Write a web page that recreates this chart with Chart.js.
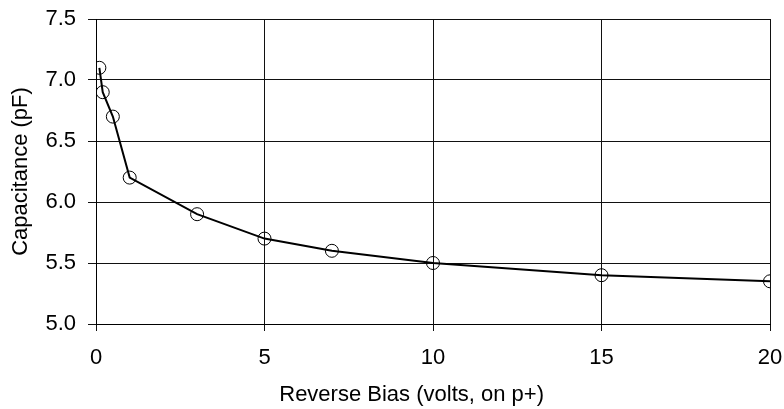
<!DOCTYPE html>
<html>
<head>
<meta charset="utf-8">
<script src="https://cdn.jsdelivr.net/npm/chart.js@4/dist/chart.umd.min.js"></script>
<style>
html,body{margin:0;padding:0;background:#fff;}
#wrap{width:784px;height:409px;position:relative;}
</style>
</head>
<body>
<div id="wrap"><canvas id="c" width="784" height="409"></canvas></div>
<script>
const biasVolts = [0.1, 0.2, 0.5, 1, 3, 5, 7, 10, 15, 20];
const capacitancePF = [7.1, 6.9, 6.7, 6.2, 5.9, 5.7, 5.6, 5.5, 5.4, 5.35];
const xTitle = 'Reverse Bias (volts, on p+)';
const yTitle = 'Capacitance (pF)';

const points = biasVolts.map((v, i) => ({x: v, y: capacitancePF[i]}));
const FONT = '"Liberation Sans", Arial, sans-serif';

new Chart(document.getElementById('c'), {
  type: 'scatter',
  data: {
    datasets: [{
      data: points,
      showLine: true,
      borderColor: '#000',
      borderWidth: 2,
      pointStyle: 'circle',
      pointRadius: 6.5,
      pointBorderWidth: 1,
      pointBorderColor: '#000',
      pointBackgroundColor: 'rgba(0,0,0,0)',
      tension: 0
    }]
  },
  options: {
    responsive: false,
    animation: false,
    devicePixelRatio: 1,
    layout: {padding: {left: 0, top: 19, right: 14, bottom: 0}},
    plugins: {legend: {display: false}, tooltip: {enabled: false}},
    scales: {
      x: {
        type: 'linear', min: 0, max: 20,
        afterFit: s => { s.height = 85; s.paddingLeft = 0; s.paddingRight = 0; },
        ticks: {stepSize: 5, color: '#000', padding: 14, font: {family: FONT, size: 22}},
        grid: {color: '#111', lineWidth: 1, tickLength: 7, drawTicks: true},
        border: {color: '#000', width: 1},
        title: {display: true, text: xTitle + '\u00a0\u00a0\u00a0\u00a0\u00a0\u00a0\u00a0', color: '#000',
                font: {family: FONT, size: 22}, padding: {top: 4, bottom: 1}}
      },
      y: {
        type: 'linear', min: 5, max: 7.5,
        afterFit: s => { s.width = 96; s.paddingTop = 0; s.paddingBottom = 0; },
        ticks: {stepSize: 0.5, color: '#000', padding: 12, font: {family: FONT, size: 22},
                callback: v => Number(v).toFixed(1)},
        grid: {color: '#111', lineWidth: 1, tickLength: 8},
        border: {color: '#000', width: 1},
        title: {display: true, text: yTitle, color: '#000', font: {family: FONT, size: 22}, padding: {top: 8, bottom: 0}}
      }
    }
  }
});
</script>
</body>
</html>
